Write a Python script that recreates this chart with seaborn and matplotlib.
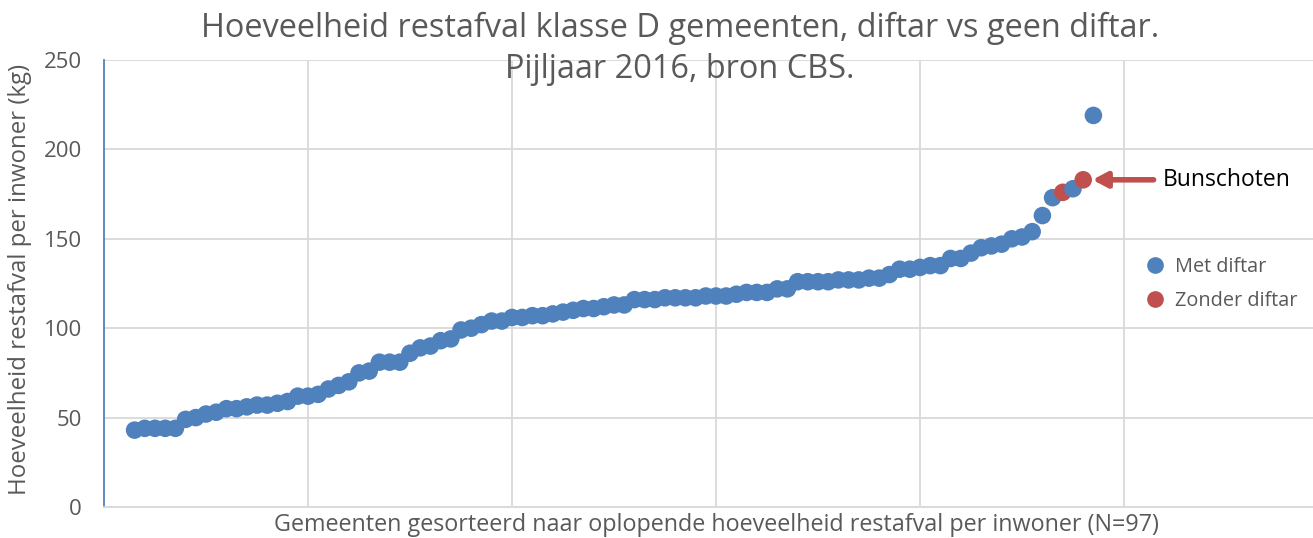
import numpy as np
import pandas as pd
import matplotlib
matplotlib.use("Agg")
import matplotlib.pyplot as plt
import matplotlib.patheffects as pe
import seaborn as sns

# ==========================================
#   DATA: restafval per inwoner (kg), sorted
# ==========================================
restafval = [43, 44, 44, 44, 44, 49, 50, 52, 53, 55,
             55, 56, 57, 57, 58, 59, 62, 62, 63, 66,
             68, 70, 75, 76, 81, 81, 81, 86, 89, 90,
             93, 94, 99, 100, 102, 104, 104, 106, 106, 107,
             107, 108, 109, 110, 111, 111, 112, 113, 113, 116,
             116, 116, 117, 117, 117, 117, 118, 118, 118, 119,
             120, 120, 120, 122, 122, 126, 126, 126, 126, 127,
             127, 127, 128, 128, 130, 133, 133, 134, 135, 135,
             139, 139, 142, 145, 146, 147, 150, 151, 154, 163,
             173, 176, 178, 183, 219]
first_rank = 3
zonder_diftar_pos = [91, 93]  # positions in the list (0-based)
bunschoten_pos = 93

groups = ["Met diftar", "Zonder diftar"]
colors = {"Met diftar": "#4F81BD", "Zonder diftar": "#C0504D"}

rank = np.arange(first_rank, first_rank + len(restafval))
group = [groups[1] if i in zonder_diftar_pos else groups[0] for i in range(len(restafval))]
df = pd.DataFrame({"rank": rank, "kg": restafval, "groep": group})

# ==========================================
#   PLOT
# ==========================================
sns.set_style("white")
plt.rcParams["font.family"] = ["Open Sans", "DejaVu Sans"]

fig = plt.figure(figsize=(13.13, 5.38), dpi=100)
ax = fig.add_axes([104 / 1313, 1 - 507 / 538, (1313 - 104) / 1313, 447 / 538])

sns.scatterplot(data=df, x="rank", y="kg", hue="groep", hue_order=groups,
                palette=colors, s=160, linewidth=0, ax=ax, zorder=3)

ax.set_xticks(range(20, 101, 20))
ax.set_yticks(range(0, 251, 50))
ax.set_xlim(0, (1313 - 104) / 10.2)
ax.set_ylim(0, 250)
ax.tick_params(axis="x", length=0, labelbottom=False)
ax.tick_params(axis="y", length=0, labelsize=16, labelcolor="#595959", pad=16)
ax.grid(True, color="#d9d9d9", linewidth=1.3)
ax.set_axisbelow(True)

for side in ["top", "right"]:
    ax.spines[side].set_visible(False)
ax.spines["left"].set_color("#4F81BD")
ax.spines["left"].set_linewidth(1.3)
ax.spines["bottom"].set_color("#d9d9d9")
ax.spines["bottom"].set_linewidth(1.3)

ax.set_xlabel("Gemeenten gesorteerd naar oplopende hoeveelheid restafval per inwoner (N=97)",
              fontsize=16.8, color="#595959")
ax.xaxis.set_label_coords((716 - 104) / 1209, -(525 - 507) / 447, transform=ax.transAxes)
ax.xaxis.label.set_va("center")
ax.set_ylabel("Hoeveelheid restafval per inwoner (kg)", fontsize=17.3, color="#595959")
ax.yaxis.set_label_coords(-(104 - 20) / 1209, (507 - 279) / 447, transform=ax.transAxes)
ax.yaxis.label.set_va("center")

fig.text(0.518, 1 - 28 / 538, "Hoeveelheid restafval klasse D gemeenten, diftar vs geen diftar.",
         ha="center", va="center", fontsize=23.4, color="#595959")
fig.text(0.518, 1 - 70 / 538, "Pijljaar 2016, bron CBS.",
         ha="center", va="center", fontsize=23.4, color="#595959")

# arrow to Bunschoten
bx, by = rank[bunschoten_pos], restafval[bunschoten_pos]
ax.annotate("", xy=(bx + 0.9, by), xytext=(bx + 6.9, by),
            arrowprops=dict(arrowstyle="-|>,head_length=0.85,head_width=0.45",
                            color="#C0504D", lw=4, shrinkA=0, shrinkB=0,
                            path_effects=[pe.SimplePatchShadow(offset=(2, -2), alpha=0.25),
                                          pe.Normal()]))
ax.text(bx + 7.8, by, "Bunschoten", fontsize=16.5, color="black", va="center", ha="left")

leg = ax.legend(loc="upper left", bbox_to_anchor=(1135 / 1313, 1 - 257 / 538),
                bbox_transform=fig.transFigure, frameon=False, fontsize=14.3,
                handletextpad=0.0, labelspacing=0.7, markerscale=0.95, borderaxespad=0,
                borderpad=0)
for t in leg.get_texts():
    t.set_color("#595959")

fig.savefig("out.png", dpi=100)
